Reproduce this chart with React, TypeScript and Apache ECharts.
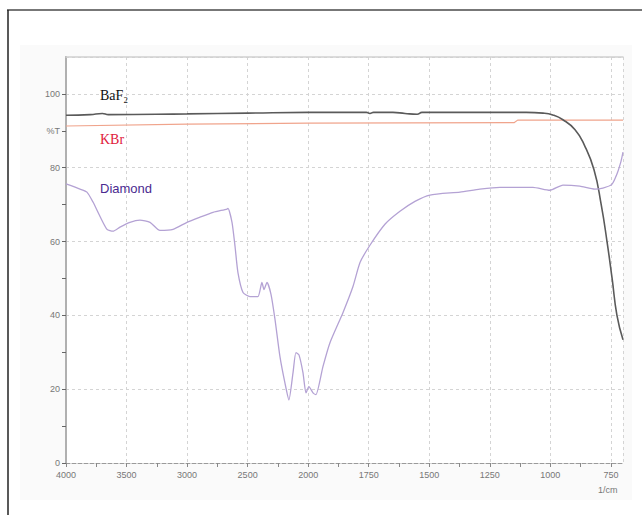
import React, { useEffect, useRef } from "react";
import * as echarts from "echarts";

// Wavenumber (1/cm) -> % transmittance
const baf2Wavenumbers = [4000, 3800, 3700, 3650, 3000, 2500, 2000, 1760, 1745, 1730, 1650, 1600, 1550, 1530, 1100, 1030, 990, 948, 898, 860, 820, 790, 766, 745, 725, 700];
const baf2Values = [94.2, 94.4, 94.7, 94.4, 94.6, 94.8, 95.0, 95.0, 94.7, 95.0, 95.0, 94.7, 94.5, 95.0, 95.0, 94.8, 94.3, 93.0, 90.3, 86.2, 79.5, 70.0, 60.0, 50.0, 40.0, 33.4];

const kbrWavenumbers = [4000, 3000, 2000, 1150, 1135, 700];
const kbrValues = [91.3, 91.8, 92.1, 92.2, 92.9, 92.9];

const diamondWavenumbers = [4000, 3884, 3827, 3777, 3719, 3661, 3612, 3554, 3472, 3389, 3306, 3224, 3116, 3001, 2893, 2786, 2670, 2662, 2629, 2604, 2580, 2538, 2481, 2415, 2382, 2365, 2340, 2307, 2274, 2233, 2192, 2159, 2125, 2101, 2076, 2043, 2018, 1997, 1980, 1968, 1939, 1910, 1856, 1815, 1786, 1745, 1683, 1621, 1559, 1497, 1373, 1291, 1208, 1072, 1002, 948, 878, 816, 783, 746, 725, 708, 700];
const diamondValues = [75.6, 74.2, 73.4, 70.7, 66.8, 63.3, 62.8, 63.9, 65.2, 65.8, 65.2, 63.0, 63.3, 65.2, 66.6, 67.9, 68.8, 69.0, 65.2, 58.7, 51.6, 46.2, 45.1, 45.1, 48.9, 47.0, 48.9, 45.7, 38.9, 28.8, 21.7, 17.1, 24.5, 29.9, 29.3, 24.5, 19.0, 20.7, 19.0, 18.5, 26.1, 32.6, 40.8, 47.8, 54.3, 59.0, 64.7, 68.2, 70.9, 72.6, 73.4, 74.2, 74.7, 74.7, 73.9, 75.3, 75.0, 74.2, 74.5, 75.5, 78.3, 81.8, 84.2];

const xTickLabels = [4000, 3500, 3000, 2500, 2000, 1750, 1500, 1250, 1000, 750];
const yTickLabels = [0, 20, 40, 60, 80, 90, 100];

// FTIR axis: scale doubles below 2000 1/cm
const toU = (w: number) => (w >= 2000 ? 4000 - w : 2000 + 2 * (2000 - w));
const fromU = (u: number) => (u <= 2000 ? 4000 - u : 2000 - (u - 2000) / 2);

const pairs = (ws: number[], vs: number[]) => ws.map((w, i) => [toU(w), vs[i]]);

export default function App() {
  const ref = useRef<HTMLDivElement>(null);
  useEffect(() => {
    if (!ref.current) return;
    const chart = echarts.init(ref.current, undefined, { renderer: "svg" });
    const labelU = xTickLabels.map(toU);
    const tickU: number[] = [];
    for (let u = 0; u <= 4500; u += 250) tickU.push(u);
    const yTicks: number[] = [];
    for (let v = 0; v <= 100; v += 10) yTicks.push(v);
    const grid = { color: "#d4d4d4", type: [3, 3] as number[], width: 1 };
    chart.setOption({
      animation: false,
      backgroundColor: "#ffffff",
      grid: { left: 66, right: 19, top: 57, bottom: 52, show: true, backgroundColor: "#ffffff", borderWidth: 0 },
      xAxis: [
        {
          type: "value",
          min: 0,
          max: 4600,
          axisLine: { show: true, onZero: false, lineStyle: { color: "#9a9a9a", type: [4, 2], width: 1 } },
          axisTick: { show: true, customValues: tickU, length: 4, lineStyle: { color: "#888" } },
          axisLabel: {
            customValues: labelU,
            formatter: (u: number) => String(Math.round(fromU(u))),
            fontSize: 9,
            color: "#777",
            margin: 7,
            fontFamily: "Liberation Sans, Arial, sans-serif",
          },
          splitLine: { show: false },
        },
        {
          type: "value",
          position: "top",
          min: 0,
          max: 4600,
          interval: 500,
          axisLine: { show: true, onZero: false, lineStyle: { color: "#d0d0d0", width: 1.5 } },
          axisTick: { show: false },
          axisLabel: { show: false },
          splitLine: { show: true, lineStyle: grid },
        },
      ],
      yAxis: [
        {
          type: "value",
          min: 0,
          max: 110,
          axisLine: { show: true, lineStyle: { color: "#555", width: 1.5 } },
          axisTick: { show: true, customValues: yTicks, length: 4, lineStyle: { color: "#666" } },
          axisLabel: {
            customValues: yTickLabels,
            formatter: (v: number) => (v === 90 ? "%T" : String(v)),
            fontSize: 9,
            color: "#777",
            margin: 6,
            fontFamily: "Liberation Sans, Arial, sans-serif",
          },
          splitLine: { show: false },
        },
        {
          type: "value",
          position: "right",
          min: 0,
          max: 110,
          interval: 20,
          axisLine: { show: true, lineStyle: { color: "#b0b0b0", width: 2 } },
          axisTick: { show: false },
          axisLabel: { show: false },
          splitLine: { show: true, lineStyle: grid },
        },
      ],
      graphic: [
        { type: "rect", silent: true, z: -10, shape: { x: 20, y: 45, width: 612, height: 455 }, style: { fill: "#fafafa" } },
        { type: "line", shape: { x1: 7, y1: 10, x2: 642, y2: 10 }, style: { stroke: "#777", lineWidth: 2 } },
        { type: "line", shape: { x1: 8, y1: 10, x2: 8, y2: 515 }, style: { stroke: "#222", lineWidth: 1.5 } },
        {
          type: "text", left: 100, top: 88, z: 100,
          style: { text: "BaF₂", fill: "#111", fontSize: 14, fontFamily: "Liberation Serif, DejaVu Serif, serif" },
        },
        {
          type: "text", left: 100, top: 132, z: 100,
          style: { text: "KBr", fill: "#e0203c", fontSize: 14, fontFamily: "Liberation Serif, DejaVu Serif, serif" },
        },
        {
          type: "text", left: 100, top: 182, z: 100,
          style: { text: "Diamond", fill: "#4a2a90", fontSize: 13, fontFamily: "Liberation Sans, Arial, sans-serif" },
        },
        {
          type: "text", left: 598, top: 485, z: 100,
          style: { text: "1/cm", fill: "#777", fontSize: 9, fontFamily: "Liberation Sans, Arial, sans-serif" },
        },
      ],
      series: [
        {
          name: "KBr", type: "line", showSymbol: false, xAxisIndex: 0, yAxisIndex: 0,
          data: pairs(kbrWavenumbers, kbrValues),
          lineStyle: { color: "#f0a48c", width: 1.2 },
        },
        {
          name: "BaF2", type: "line", showSymbol: false, smooth: 0.5, xAxisIndex: 0, yAxisIndex: 0,
          data: pairs(baf2Wavenumbers, baf2Values),
          lineStyle: { color: "#5a5a5a", width: 1.6 },
        },
        {
          name: "Diamond", type: "line", showSymbol: false, smooth: 0.2, xAxisIndex: 0, yAxisIndex: 0,
          data: pairs(diamondWavenumbers, diamondValues),
          lineStyle: { color: "#b4a2d4", width: 1.3 },
        },
      ],
    });
    return () => chart.dispose();
  }, []);
  return <div ref={ref} style={{ position: "absolute", left: 0, top: 0, width: 642, height: 515 }} />;
}
